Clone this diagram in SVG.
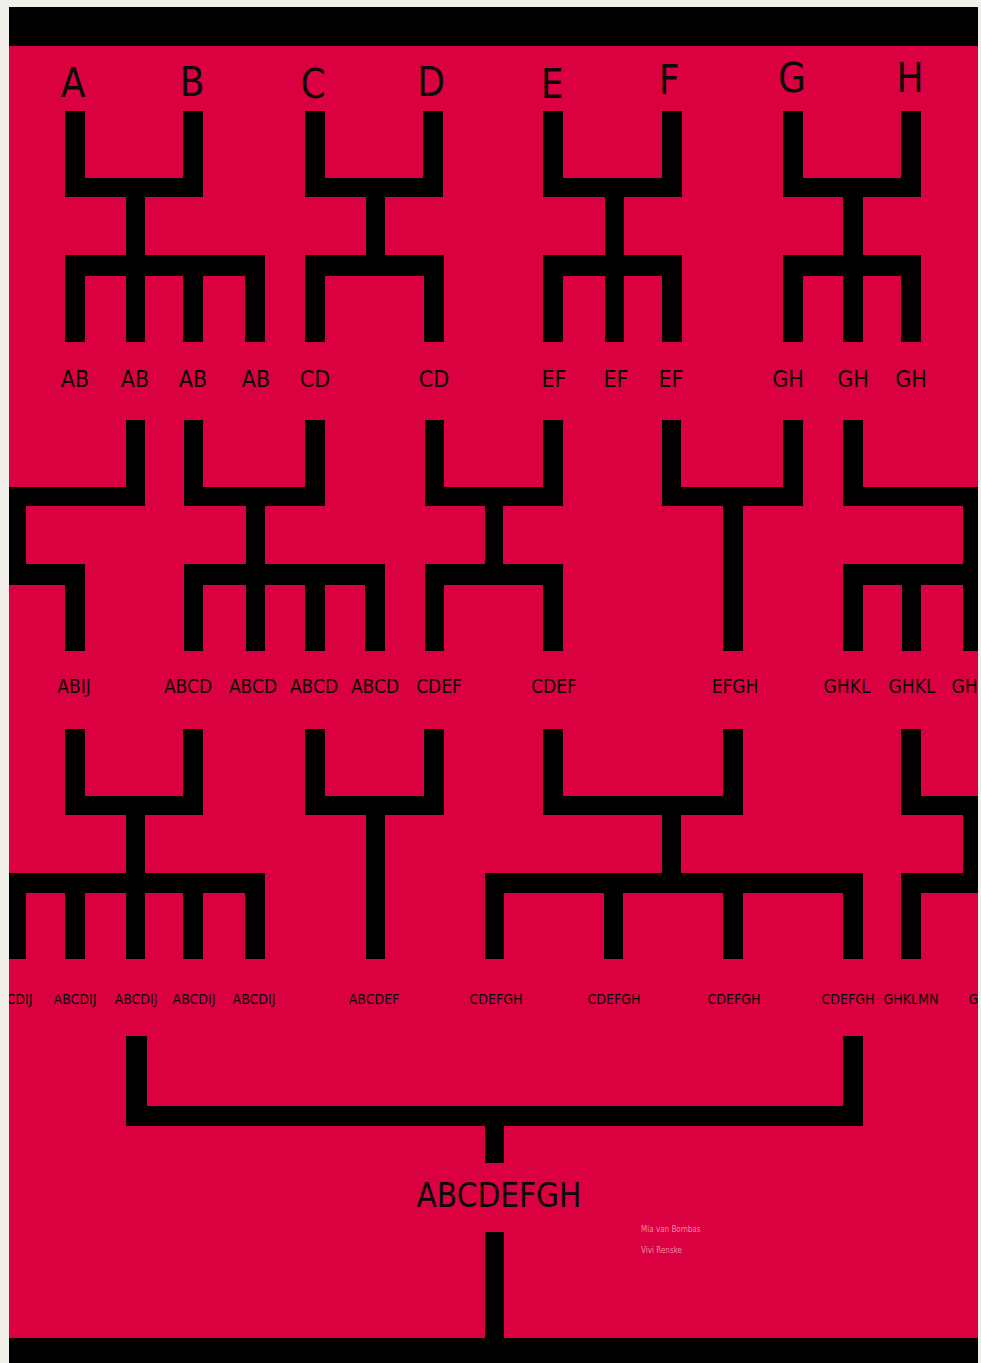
<svg xmlns="http://www.w3.org/2000/svg" width="981" height="1363" viewBox="0 0 981 1363">
<style>
.b{fill:#000}
.t{font-family:"DejaVu Sans Condensed","DejaVu Sans",sans-serif;fill:#0a0a0a;text-anchor:middle}
.l1{font-size:40px}
.l2{font-size:23px}
.l3{font-size:19px}
.l4{font-size:14px}
.l5{font-size:33px}
.s{font-family:"DejaVu Sans Condensed","DejaVu Sans",sans-serif;font-size:8px;fill:#f28ca4}
</style>
<defs>
<clipPath id="area"><rect x="9" y="46" width="969" height="1292"/></clipPath>
</defs>
<rect x="0" y="0" width="981" height="1363" fill="#efeee9"/>
<rect x="9" y="7" width="969" height="1356" fill="#db0040"/>
<rect x="9" y="7" width="969" height="39" class="b"/>
<rect x="9" y="1338" width="969" height="25" class="b"/>
<g id="connectors" clip-path="url(#area)">
<!-- row 1 -->
<g id="c-AB">
<rect class="b" x="65" y="111" width="20" height="86"/><rect class="b" x="183" y="111" width="20" height="86"/>
<rect class="b" x="65" y="178" width="138" height="19"/><rect class="b" x="126" y="197" width="19" height="58"/>
<rect class="b" x="65" y="255" width="200" height="21"/>
<rect class="b" x="65" y="255" width="20" height="87"/><rect class="b" x="126" y="255" width="19" height="87"/>
<rect class="b" x="183" y="255" width="20" height="87"/><rect class="b" x="245" y="255" width="20" height="87"/>
</g>
<g id="c-CD">
<rect class="b" x="305" y="111" width="20" height="86"/><rect class="b" x="423" y="111" width="20" height="86"/>
<rect class="b" x="305" y="178" width="138" height="19"/><rect class="b" x="366" y="197" width="19" height="58"/>
<rect class="b" x="305" y="255" width="139" height="21"/>
<rect class="b" x="305" y="255" width="20" height="87"/><rect class="b" x="424" y="255" width="20" height="87"/>
</g>
<g id="c-EF">
<rect class="b" x="543" y="111" width="20" height="86"/><rect class="b" x="662" y="111" width="20" height="86"/>
<rect class="b" x="543" y="178" width="139" height="19"/><rect class="b" x="605" y="197" width="19" height="58"/>
<rect class="b" x="543" y="255" width="139" height="21"/>
<rect class="b" x="543" y="255" width="20" height="87"/><rect class="b" x="605" y="255" width="19" height="87"/><rect class="b" x="662" y="255" width="20" height="87"/>
</g>
<g id="c-GH">
<rect class="b" x="783" y="111" width="20" height="86"/><rect class="b" x="901" y="111" width="20" height="86"/>
<rect class="b" x="783" y="178" width="138" height="19"/><rect class="b" x="843" y="197" width="20" height="58"/>
<rect class="b" x="783" y="255" width="138" height="21"/>
<rect class="b" x="783" y="255" width="20" height="87"/><rect class="b" x="843" y="255" width="20" height="87"/><rect class="b" x="901" y="255" width="20" height="87"/>
</g>
<!-- row 2 -->
<g id="c-ABIJ">
<rect class="b" x="126" y="420" width="19" height="86"/>
<rect class="b" x="0" y="487" width="145" height="19"/><rect class="b" x="6" y="506" width="20" height="58"/>
<rect class="b" x="0" y="564" width="85" height="21"/>
<rect class="b" x="65" y="564" width="20" height="87"/>
</g>
<g id="c-ABCD">
<rect class="b" x="184" y="420" width="19" height="86"/><rect class="b" x="305" y="420" width="20" height="86"/>
<rect class="b" x="184" y="487" width="141" height="19"/><rect class="b" x="246" y="506" width="19" height="58"/>
<rect class="b" x="184" y="564" width="201" height="21"/>
<rect class="b" x="184" y="564" width="19" height="87"/><rect class="b" x="246" y="564" width="19" height="87"/>
<rect class="b" x="305" y="564" width="20" height="87"/><rect class="b" x="365" y="564" width="20" height="87"/>
</g>
<g id="c-CDEF">
<rect class="b" x="425" y="420" width="19" height="86"/><rect class="b" x="543" y="420" width="20" height="86"/>
<rect class="b" x="425" y="487" width="138" height="19"/><rect class="b" x="485" y="506" width="18" height="58"/>
<rect class="b" x="425" y="564" width="138" height="21"/>
<rect class="b" x="425" y="564" width="19" height="87"/><rect class="b" x="543" y="564" width="20" height="87"/>
</g>
<g id="c-EFGH">
<rect class="b" x="662" y="420" width="19" height="86"/><rect class="b" x="783" y="420" width="20" height="86"/>
<rect class="b" x="662" y="487" width="141" height="19"/><rect class="b" x="723" y="506" width="20" height="145"/>
</g>
<g id="c-GHKL">
<rect class="b" x="843" y="420" width="20" height="86"/>
<rect class="b" x="843" y="487" width="140" height="19"/><rect class="b" x="963" y="506" width="20" height="58"/>
<rect class="b" x="843" y="564" width="140" height="21"/>
<rect class="b" x="843" y="564" width="20" height="87"/><rect class="b" x="902" y="564" width="19" height="87"/><rect class="b" x="963" y="564" width="20" height="87"/>
</g>
<!-- row 3 -->
<g id="c-ABCDIJ">
<rect class="b" x="65" y="729" width="20" height="86"/><rect class="b" x="183" y="729" width="20" height="86"/>
<rect class="b" x="65" y="796" width="138" height="19"/><rect class="b" x="126" y="815" width="19" height="58"/>
<rect class="b" x="0" y="873" width="265" height="20"/>
<rect class="b" x="6" y="873" width="20" height="86"/><rect class="b" x="65" y="873" width="20" height="86"/>
<rect class="b" x="126" y="873" width="19" height="86"/><rect class="b" x="183" y="873" width="20" height="86"/>
<rect class="b" x="245" y="873" width="20" height="86"/>
</g>
<g id="c-ABCDEF">
<rect class="b" x="305" y="729" width="20" height="86"/><rect class="b" x="424" y="729" width="20" height="86"/>
<rect class="b" x="305" y="796" width="139" height="19"/><rect class="b" x="366" y="815" width="19" height="144"/>
</g>
<g id="c-CDEFGH">
<rect class="b" x="543" y="729" width="20" height="86"/><rect class="b" x="723" y="729" width="20" height="86"/>
<rect class="b" x="543" y="796" width="200" height="19"/><rect class="b" x="662" y="815" width="19" height="58"/>
<rect class="b" x="485" y="873" width="378" height="20"/>
<rect class="b" x="485" y="873" width="19" height="86"/><rect class="b" x="604" y="873" width="19" height="86"/>
<rect class="b" x="723" y="873" width="20" height="86"/><rect class="b" x="843" y="873" width="20" height="86"/>
</g>
<g id="c-GHKLMN">
<rect class="b" x="901" y="729" width="20" height="86"/>
<rect class="b" x="901" y="796" width="82" height="19"/><rect class="b" x="963" y="815" width="20" height="58"/>
<rect class="b" x="901" y="873" width="82" height="20"/>
<rect class="b" x="901" y="873" width="20" height="86"/>
</g>
<!-- final -->
<g id="c-final">
<rect class="b" x="126" y="1036" width="21" height="90"/><rect class="b" x="843" y="1036" width="20" height="90"/>
<rect class="b" x="126" y="1106" width="737" height="20"/>
<rect class="b" x="485" y="1126" width="19" height="37"/>
<rect class="b" x="485" y="1232" width="19" height="106"/>
</g>
</g>
<g id="labels" clip-path="url(#area)">
<g id="n-A"><text class="t l1" x="73" y="97">A</text></g>
<g id="n-B"><text class="t l1" x="192" y="96">B</text></g>
<g id="n-C"><text class="t l1" x="313" y="98">C</text></g>
<g id="n-D"><text class="t l1" x="431" y="96">D</text></g>
<g id="n-E"><text class="t l1" x="552" y="98">E</text></g>
<g id="n-F"><text class="t l1" x="669" y="94">F</text></g>
<g id="n-G"><text class="t l1" x="792" y="92">G</text></g>
<g id="n-H"><text class="t l1" x="910" y="92">H</text></g>

<g id="n-AB1"><text class="t l2" x="75" y="387">AB</text></g>
<g id="n-AB2"><text class="t l2" x="135" y="387">AB</text></g>
<g id="n-AB3"><text class="t l2" x="193" y="387">AB</text></g>
<g id="n-AB4"><text class="t l2" x="256" y="387">AB</text></g>
<g id="n-CD1"><text class="t l2" x="315" y="387">CD</text></g>
<g id="n-CD2"><text class="t l2" x="434" y="387">CD</text></g>
<g id="n-EF1"><text class="t l2" x="554" y="387">EF</text></g>
<g id="n-EF2"><text class="t l2" x="616" y="387">EF</text></g>
<g id="n-EF3"><text class="t l2" x="671" y="387">EF</text></g>
<g id="n-GH1"><text class="t l2" x="788" y="387">GH</text></g>
<g id="n-GH2"><text class="t l2" x="853" y="387">GH</text></g>
<g id="n-GH3"><text class="t l2" x="911" y="387">GH</text></g>

<g id="n-ABIJ"><text class="t l3" x="74" y="693">ABIJ</text></g>
<g id="n-ABCD1"><text class="t l3" x="188" y="693">ABCD</text></g>
<g id="n-ABCD2"><text class="t l3" x="253" y="693">ABCD</text></g>
<g id="n-ABCD3"><text class="t l3" x="314" y="693">ABCD</text></g>
<g id="n-ABCD4"><text class="t l3" x="375" y="693">ABCD</text></g>
<g id="n-CDEF1"><text class="t l3" x="439" y="693">CDEF</text></g>
<g id="n-CDEF2"><text class="t l3" x="554" y="693">CDEF</text></g>
<g id="n-EFGH"><text class="t l3" x="735" y="693">EFGH</text></g>
<g id="n-GHKL1"><text class="t l3" x="847" y="693">GHKL</text></g>
<g id="n-GHKL2"><text class="t l3" x="912" y="693">GHKL</text></g>
<g id="n-GHKL3"><text class="t l3" x="975" y="693">GHKL</text></g>

<g id="n-ABCDIJ0"><text class="t l4" x="11" y="1004">ABCDIJ</text></g>
<g id="n-ABCDIJ1"><text class="t l4" x="75" y="1004">ABCDIJ</text></g>
<g id="n-ABCDIJ2"><text class="t l4" x="136" y="1004">ABCDIJ</text></g>
<g id="n-ABCDIJ3"><text class="t l4" x="194" y="1004">ABCDIJ</text></g>
<g id="n-ABCDIJ4"><text class="t l4" x="254" y="1004">ABCDIJ</text></g>
<g id="n-ABCDEF"><text class="t l4" x="374" y="1004">ABCDEF</text></g>
<g id="n-CDEFGH1"><text class="t l4" x="496" y="1004">CDEFGH</text></g>
<g id="n-CDEFGH2"><text class="t l4" x="614" y="1004">CDEFGH</text></g>
<g id="n-CDEFGH3"><text class="t l4" x="734" y="1004">CDEFGH</text></g>
<g id="n-CDEFGH4"><text class="t l4" x="848" y="1004">CDEFGH</text></g>
<g id="n-GHKLMN1"><text class="t l4" x="911" y="1004">GHKLMN</text></g>
<g id="n-GHKLMN2"><text class="t l4" x="996" y="1004">GHKLMN</text></g>

<g id="n-ABCDEFGH"><text class="t l5" x="499" y="1207">ABCDEFGH</text></g>
<g id="n-credits">
<text class="s" x="641" y="1232">Mia van Bombas</text>
<text class="s" x="641" y="1253">Vivi Renske</text>
</g>
</g>
</svg>
